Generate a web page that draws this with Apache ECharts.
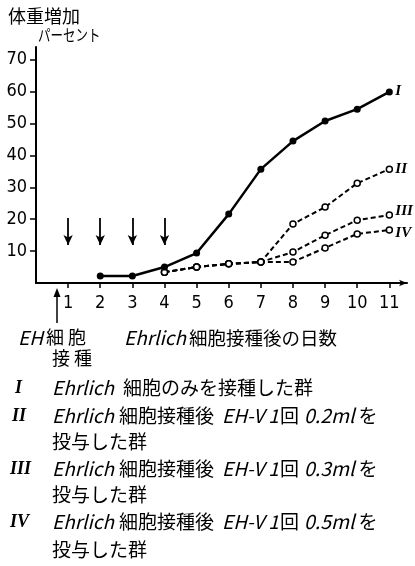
<!DOCTYPE html>
<html>
<head>
<meta charset="utf-8">
<script src="https://cdn.jsdelivr.net/npm/echarts@6/dist/echarts.min.js"></script>
<style>
html,body{margin:0;padding:0;background:#fff;}
#c{width:415px;height:566px;}
</style>
</head>
<body>
<div id="c"></div>
<script>
// ---- data ----
const xTicks = [1, 2, 3, 4, 5, 6, 7, 8, 9, 10, 11];
const yTicks = [10, 20, 30, 40, 50, 60, 70];
const daysI = [2, 3, 4, 5, 6, 7, 8, 9, 10, 11];
const valuesI = [2.2, 2.2, 5.0, 9.4, 21.6, 35.7, 44.5, 50.8, 54.5, 59.9];
const daysV = [4, 5, 6, 7, 8, 9, 10, 11];
const valuesII = [3.4, 5.0, 6.0, 6.6, 18.5, 23.8, 31.3, 35.7];
const valuesIII = [3.4, 5.0, 6.0, 6.6, 9.7, 15.0, 19.7, 21.3];
const valuesIV = [3.4, 5.0, 6.0, 6.6, 6.6, 11.0, 15.4, 16.6];
const doses = ['0.2ml', '0.3ml', '0.5ml'];
const arrowDays = [1, 2, 3, 4];
const arrowTop = 20.4;
const arrowBottom = 11.9;

const numFont = '"Liberation Sans Narrow","DejaVu Sans Condensed","Liberation Sans",sans-serif';
const jp = '"Noto Sans CJK JP",sans-serif';
const romanFont = '"Liberation Serif","DejaVu Serif",serif';

function pairs(xs, ys) { return xs.map((x, i) => [x, ys[i]]); }

const chart = echarts.init(document.getElementById('c'), null, {renderer: 'canvas'});

const endLbl = (name, offsetY) => ({
  show: true,
  formatter: name,
  fontFamily: romanFont,
  fontStyle: 'italic',
  fontWeight: 'bold',
  fontSize: 15,
  color: '#000',
  distance: 6,
  offset: [0, offsetY]
});

const openSeries = (name, vals, offsetY) => ({
  name: name,
  type: 'line',
  data: pairs(daysV, vals),
  symbol: 'circle',
  symbolSize: 6,
  itemStyle: {color: '#fff', borderColor: '#000', borderWidth: 1.5},
  lineStyle: {color: '#000', width: 2, type: [5, 3]},
  z: 3,
  endLabel: endLbl(name, offsetY),
  animation: false
});

const rowRich = {
  a: {font: 'italic 19px ' + jp, fill: '#000'},
  s: {font: '19px ' + jp, fill: '#000', padding: [0, 0, 0, 5]},
  e: {font: 'italic 19px ' + jp, fill: '#000', padding: [0, 0, 0, 8]},
  k: {font: '19px ' + jp, fill: '#000', padding: [0, 0, 0, 1]},
  m: {font: 'italic 19.5px ' + jp, fill: '#000', padding: [0, 0, 0, 5]},
  o: {font: '19px ' + jp, fill: '#000', padding: [0, 0, 0, 4]},
  b: {font: '19px ' + jp, fill: '#000'}
};

const doseRow = (dose) => '{a|Ehrlich}{s|細胞接種後}{e|EH-V 1}{k|回}{m|' + dose + '}{o|を}';

const option = {
  animation: false,
  backgroundColor: '#fff',
  grid: {left: 36, right: 8, top: 47, bottom: 283, outerBoundsMode: 'none', containLabel: false},
  xAxis: {
    type: 'value',
    min: 0,
    max: 11.55,
    splitLine: {show: false},
    axisLine: {show: true, lineStyle: {color: '#000', width: 2}, symbol: ['none', 'arrow'], symbolSize: [5, 8]},
    axisTick: {show: true, length: 5, lineStyle: {color: '#000', width: 1.5}, customValues: xTicks},
    axisLabel: {
      customValues: xTicks,
      margin: 11,
      color: '#000',
      fontSize: 18,
      fontFamily: numFont
    }
  },
  yAxis: {
    type: 'value',
    min: 0,
    max: 74,
    splitLine: {show: false},
    axisLine: {show: true, lineStyle: {color: '#000', width: 2}},
    axisTick: {show: true, length: 6, lineStyle: {color: '#000', width: 1.5}, customValues: yTicks},
    axisLabel: {
      customValues: yTicks,
      margin: 9,
      color: '#000',
      fontSize: 18,
      fontFamily: numFont
    }
  },
  series: [
    {
      name: 'I',
      type: 'line',
      data: pairs(daysI, valuesI),
      symbol: 'circle',
      symbolSize: 7,
      itemStyle: {color: '#000'},
      lineStyle: {color: '#000', width: 2.5},
      z: 4,
      endLabel: endLbl('I', -1),
      markLine: {
        silent: true,
        symbol: ['none', 'arrow'],
        symbolSize: [7, 10],
        label: {show: false},
        lineStyle: {color: '#000', width: 1.8, type: 'solid'},
        data: arrowDays.map(d => [{coord: [d, arrowTop]}, {coord: [d, arrowBottom]}])
      }
    },
    openSeries('II', valuesII, 0),
    openSeries('III', valuesIII, -4),
    openSeries('IV', valuesIV, 3)
  ],
  graphic: [
    {type: 'text', x: 8, y: 7, style: {text: '体重増加', font: '18px ' + jp, fill: '#000'}},
    {type: 'text', x: 38, y: 27, scaleX: 0.78, style: {text: 'パーセント', font: '16px ' + jp, fill: '#000'}},
    {type: 'line', shape: {x1: 57, y1: 294, x2: 57, y2: 323}, style: {stroke: '#000', lineWidth: 1.5}},
    {type: 'polygon', shape: {points: [[57, 288], [53.5, 297], [60.5, 297]]}, style: {fill: '#000'}},
    {type: 'text', x: 18, y: 328, style: {
      text: '{a|EH}{b|細 胞}',
      rich: {
        a: {font: 'italic 19px ' + jp, fill: '#000'},
        b: {font: '18px ' + jp, fill: '#000', padding: [0, 0, 0, 3]}
      }
    }},
    {type: 'text', x: 52, y: 349, style: {text: '接 種', font: '18px ' + jp, fill: '#000'}},
    {type: 'text', x: 124, y: 328, style: {
      text: '{a|Ehrlich}{s|細胞接種後の日数}',
      rich: Object.assign({}, rowRich, {s: {font: '18.5px ' + jp, fill: '#000', padding: [0, 0, 0, 3]}})
    }},
    // legend texts
    {type: 'text', x: 15, y: 379, style: {text: 'I', font: 'italic bold 18px ' + romanFont, fill: '#000'}},
    {type: 'text', x: 52, y: 378, style: {
      text: '{a|Ehrlich}{s|細胞のみを接種した群}',
      rich: Object.assign({}, rowRich, {s: {font: '19px ' + jp, fill: '#000', padding: [0, 0, 0, 9]}})
    }},
    {type: 'text', x: 12, y: 407, style: {text: 'II', font: 'italic bold 18px ' + romanFont, fill: '#000'}},
    {type: 'text', x: 52, y: 406, style: {text: doseRow(doses[0]), rich: rowRich}},
    {type: 'text', x: 52, y: 432, style: {text: '投与した群', font: '19px ' + jp, fill: '#000'}},
    {type: 'text', x: 10, y: 460, style: {text: 'III', font: 'italic bold 18px ' + romanFont, fill: '#000'}},
    {type: 'text', x: 52, y: 459, style: {text: doseRow(doses[1]), rich: rowRich}},
    {type: 'text', x: 52, y: 485, style: {text: '投与した群', font: '19px ' + jp, fill: '#000'}},
    {type: 'text', x: 10, y: 513, style: {text: 'IV', font: 'italic bold 18px ' + romanFont, fill: '#000'}},
    {type: 'text', x: 52, y: 512, style: {text: doseRow(doses[2]), rich: rowRich}},
    {type: 'text', x: 52, y: 540, style: {text: '投与した群', font: '19px ' + jp, fill: '#000'}}
  ]
};
chart.setOption(option);
</script>
</body>
</html>
